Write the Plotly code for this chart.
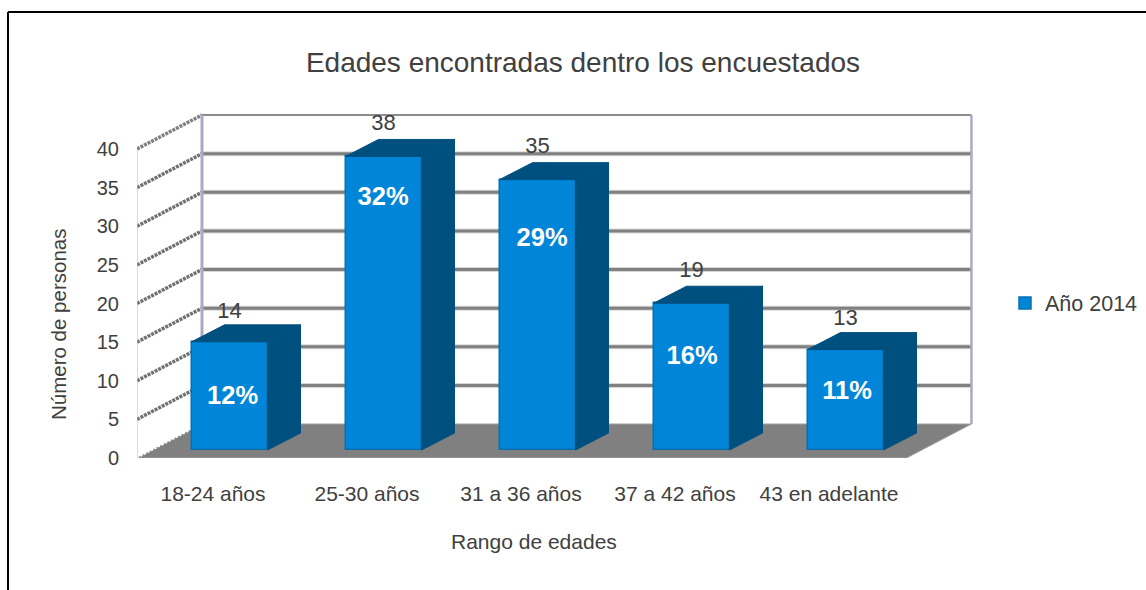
import plotly.graph_objects as go

# datos
categorias = ['18-24 años', '25-30 años', '31 a 36 años', '37 a 42 años', '43 en adelante']
personas = [14, 38, 35, 19, 13]
porcentajes = ['12%', '32%', '29%', '16%', '11%']
serie = 'Año 2014'
ticks_y = [0, 5, 10, 15, 20, 25, 30, 35, 40]

# colores
AZUL = '#0085d8'
AZUL_BORDE = '#0670b0'
AZUL_OSCURO = '#00507f'
GRIS = '#808080'
TEXTO = '#404040'
FUENTE = 'Liberation Sans, Arial, sans-serif'

# escala: 1 unidad x = 154 px, 1 unidad y = 7.725 px
PX_X = 154
PX_Y = 7.725
X_INI = -0.4935
X_FIN = 4.503
PARED_DX = 65 / PX_X
PARED_DY = 34 / PX_Y
BARRA_DX = 16.5 / PX_X
BARRA_DY = 8 / PX_Y
FONDO_DX = 33 / PX_X
FONDO_DY = 17 / PX_Y
ANCHO = 76 / PX_X

# posicion de cada porcentaje respecto a la punta y al centro de la barra
BAJADA_PCT = [7.27, 5.42, 7.72, 7.0, 5.62]
CORRIDA_PCT = [3.5, 0, 5, 1, 2]
SUBIDA_NUM = [4.8, 5.2, 5.2, 5.2, 4.95]

fig = go.Figure()

# caras laterales y superiores de las barras
for i, v in enumerate(personas):
    izq = i + BARRA_DX - ANCHO / 2
    der = i + BARRA_DX + ANCHO / 2
    arriba = v + BARRA_DY
    fig.add_trace(go.Scatter(
        x=[der, der + FONDO_DX, der + FONDO_DX, der, der],
        y=[BARRA_DY, BARRA_DY + FONDO_DY, arriba + FONDO_DY, arriba, BARRA_DY],
        mode='lines', fill='toself', fillcolor=AZUL_OSCURO,
        line=dict(color=AZUL_OSCURO, width=1),
        showlegend=False, hoverinfo='skip'))
    fig.add_trace(go.Scatter(
        x=[izq, izq + FONDO_DX, der + FONDO_DX, der, izq],
        y=[arriba, arriba + FONDO_DY, arriba + FONDO_DY, arriba, arriba],
        mode='lines', fill='toself', fillcolor=AZUL_OSCURO,
        line=dict(color=AZUL_OSCURO, width=1),
        showlegend=False, hoverinfo='skip'))

# cara frontal
fig.add_trace(go.Bar(
    x=[i + BARRA_DX for i in range(len(personas))],
    y=personas,
    base=BARRA_DY,
    width=ANCHO,
    name=serie,
    marker=dict(color=AZUL, line=dict(color=AZUL_BORDE, width=1.5))))

# numero de personas sobre cada barra
fig.add_trace(go.Scatter(
    x=[i + BARRA_DX for i in range(len(personas))],
    y=[v + s for v, s in zip(personas, SUBIDA_NUM)],
    mode='text',
    text=[str(v) for v in personas],
    textposition='middle center',
    textfont=dict(family=FUENTE, size=22, color=TEXTO),
    cliponaxis=False,
    showlegend=False, hoverinfo='skip'))

# porcentajes dentro de la barra
fig.add_trace(go.Scatter(
    x=[i + BARRA_DX - 0.003 + c / PX_X for i, c in enumerate(CORRIDA_PCT)],
    y=[v + BARRA_DY - b for v, b in zip(personas, BAJADA_PCT)],
    mode='text',
    text=porcentajes,
    textposition='middle center',
    textfont=dict(family=FUENTE, size=25.5, color='white', weight='bold'),
    showlegend=False, hoverinfo='skip'))

# suelo
suelo = (f'M {X_INI} 0 L {X_INI + PARED_DX} {PARED_DY} '
         f'L {X_FIN + PARED_DX} {PARED_DY} L {X_FIN} 0 Z')
fig.add_shape(type='path', path=suelo, xref='x', yref='y', layer='below',
              fillcolor=GRIS, line=dict(color='#a0a0a0', width=1))

# rejilla de la pared del fondo y de la pared lateral
for t in ticks_y[1:]:
    if t != 40:
        fig.add_shape(type='line', xref='x', yref='y', layer='below',
                      x0=X_INI + PARED_DX, x1=X_FIN + PARED_DX, y0=t + PARED_DY, y1=t + PARED_DY,
                      line=dict(color='#d8d8d8', width=5))
        fig.add_shape(type='line', xref='x', yref='y', layer='below',
                      x0=X_INI + PARED_DX, x1=X_FIN + PARED_DX, y0=t + PARED_DY, y1=t + PARED_DY,
                      line=dict(color=GRIS, width=3))
    fig.add_shape(type='line', xref='x', yref='y', layer='below',
                  x0=X_INI, x1=X_INI + PARED_DX, y0=t, y1=t + PARED_DY,
                  line=dict(color='#808080' if t == 40 else '#707070', width=3.5, dash='3px,1px'))
fig.add_shape(type='line', xref='x', yref='y', layer='below',
              x0=X_INI, x1=X_INI + PARED_DX, y0=0, y1=PARED_DY,
              line=dict(color='#ffffff', width=1.5, dash='2px,2px'))

# contorno de las paredes
fig.add_shape(type='line', xref='x', yref='y', layer='below',
              x0=X_INI + PARED_DX, x1=X_FIN + PARED_DX, y0=40 + PARED_DY, y1=40 + PARED_DY,
              line=dict(color='#8c8c8c', width=2))
for xp, ancho in [(X_INI + PARED_DX, 3), (X_FIN + PARED_DX, 2.5)]:
    fig.add_shape(type='line', xref='x', yref='y', layer='below',
                  x0=xp, x1=xp, y0=PARED_DY, y1=40 + PARED_DY,
                  line=dict(color='#aaaac4', width=ancho))
fig.add_shape(type='line', xref='x', yref='y', layer='below',
              x0=X_INI, x1=X_INI, y0=0, y1=40,
              line=dict(color='#b8b8cc', width=1))

# marco negro de la imagen (coordenadas paper relativas al area del grafico)
fig.add_shape(type='line', xref='paper', yref='paper',
              x0=(8 - 137) / 838, x1=(1146 - 137) / 838,
              y0=(458 - 12) / 358, y1=(458 - 12) / 358,
              line=dict(color='black', width=2))
fig.add_shape(type='line', xref='paper', yref='paper',
              x0=(8 - 137) / 838, x1=(8 - 137) / 838,
              y0=(458 - 12) / 358, y1=(458 - 590) / 358,
              line=dict(color='black', width=2))

# titulos de los ejes: en el original no estan centrados en el area del grafico
fig.add_annotation(text='Rango de edades', xref='paper', yref='paper',
                   x=(534 - 137) / 838, y=(458 - 541) / 358,
                   xanchor='center', yanchor='middle', showarrow=False,
                   font=dict(family=FUENTE, size=21, color=TEXTO))
fig.add_annotation(text='Número de personas', xref='paper', yref='paper',
                   x=(58 - 137) / 838, y=(458 - 325) / 358,
                   xanchor='center', yanchor='middle', showarrow=False, textangle=-90,
                   font=dict(family=FUENTE, size=20.5, color=TEXTO))

fig.update_layout(
    width=1146, height=590,
    margin=dict(l=137, r=171, t=100, b=132, autoexpand=False),
    paper_bgcolor='white', plot_bgcolor='rgba(0,0,0,0)',
    font=dict(family=FUENTE, color=TEXTO),
    title=dict(text='Edades encontradas dentro los encuestados',
               font=dict(family=FUENTE, size=28, color=TEXTO),
               x=583 / 1146, xanchor='center', y=1 - 62 / 590, yanchor='middle'),
    legend=dict(x=(1005 - 137) / 838, y=(458 - 303) / 358, xanchor='left', yanchor='middle',
                font=dict(family=FUENTE, size=21.5, color=TEXTO), bgcolor='rgba(0,0,0,0)'),
    showlegend=True,
    bargap=0,
)
fig.update_xaxes(
    range=[X_INI, X_INI + 838 / PX_X], showgrid=False, zeroline=False, showline=False,
    tickmode='array', tickvals=list(range(len(categorias))), ticktext=categorias,
    ticks='outside', ticklen=17, tickcolor='rgba(0,0,0,0)',
    tickfont=dict(family=FUENTE, size=21, color=TEXTO),
)
fig.update_yaxes(
    range=[0, 358 / PX_Y], showgrid=False, zeroline=False, showline=False,
    tickmode='array', tickvals=ticks_y,
    ticks='outside', ticklen=13, tickcolor='rgba(0,0,0,0)',
    tickfont=dict(family=FUENTE, size=20, color=TEXTO),
)

# sin el margen de 8 px del body
fig.write_html("out.html", config={'displayModeBar': False},
               post_script="document.body.style.margin = '0';")
